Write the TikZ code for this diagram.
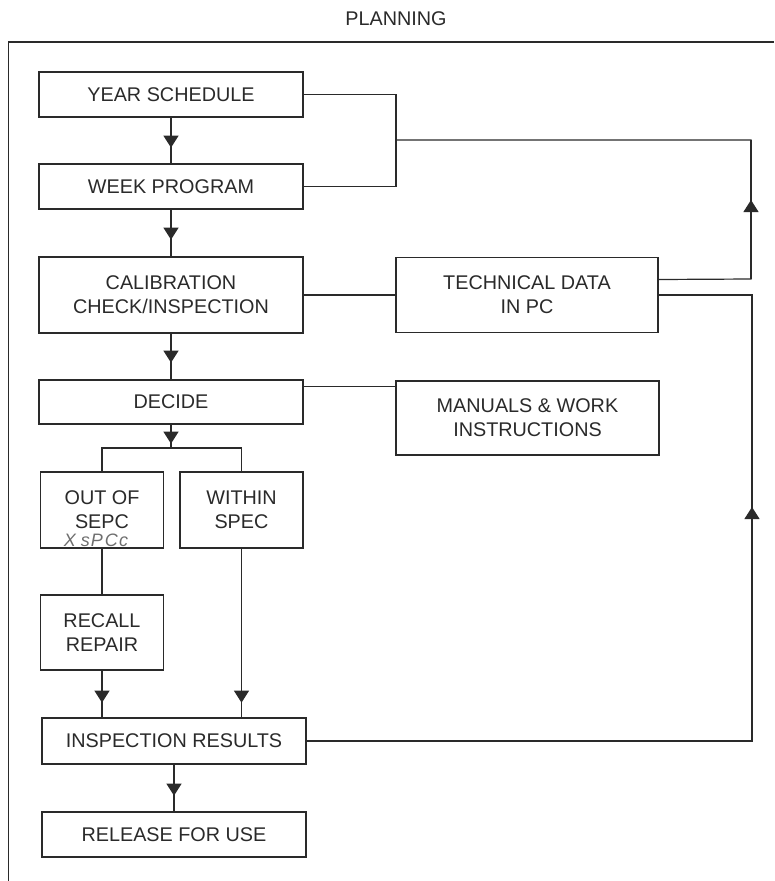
\documentclass[tikz,border=0pt]{standalone}
\usepackage{fontspec}
\setmainfont{Liberation Sans}
\usetikzlibrary{arrows.meta,decorations.markings}
\definecolor{ink}{HTML}{2A2A2A}
\definecolor{pencil}{HTML}{6E6E6E}
\tikzset{
  label font/.style={font=\fontsize{19.8}{24}\selectfont},
  box/.style={draw=ink, line width=1.3pt, rectangle, align=center, text=ink,
    label font, inner sep=0pt},
  conn/.style={draw=ink, line width=1.2pt},
  tipat/.style={postaction={decorate}, decoration={markings,
    mark=at position #1 with {\arrow[ink]{Triangle[width=15pt,length=12pt]}}}},
}
\begin{document}
\begin{tikzpicture}[x=1pt, y=-1pt]
\useasboundingbox (0,0) rectangle (774,881);

% title and outer frame
\node[text=ink, label font] (title) at (396,18.5) {PLANNING};
\draw[conn] (8.5,881) -- (8.5,42) -- (774,42);

% main column
\node[box, minimum width=264pt, minimum height=45pt] (year)    at (171,94.5)  {YEAR SCHEDULE};
\node[box, minimum width=264pt, minimum height=45pt] (week)    at (171,186.5) {WEEK PROGRAM};
\node[box, minimum width=264pt, minimum height=76pt] (calib)   at (171,295)   {CALIBRATION\\CHECK/INSPECTION};
\node[box, minimum width=264pt, minimum height=44pt] (decide)  at (171,402)   {DECIDE};
\node[box, minimum width=123pt, minimum height=76pt] (out)     at (102,510)   {OUT OF\\SEPC};
\node[box, minimum width=123pt, minimum height=76pt] (within)  at (241.5,510) {WITHIN\\SPEC};
\node[box, minimum width=123pt, minimum height=75pt] (recall)  at (102,632.5) {RECALL\\REPAIR};
\node[box, minimum width=264pt, minimum height=46pt] (insp)    at (174,741)   {INSPECTION RESULTS};
\node[box, minimum width=264pt, minimum height=45pt] (release) at (174,834.5) {RELEASE FOR USE};

% side column
\node[box, minimum width=262pt, minimum height=75pt] (tech)    at (527,295)   {TECHNICAL DATA\\IN PC};
\node[box, minimum width=263pt, minimum height=74pt] (manuals) at (527.5,418) {MANUALS \& WORK\\INSTRUCTIONS};

% pencil note
\node[text=pencil, font=\itshape\fontsize{18}{18}\selectfont, inner sep=0pt] (note) at (96,540.5) {X\ s\kern1pt P\kern2pt C\kern1pt c};

% downward flow
\draw[conn, tipat=30pt] (year) -- (week);
\draw[conn, tipat=30pt] (week) -- (calib);
\draw[conn, tipat=29pt] (calib) -- (decide);
\coordinate (fork) at (171,448);
\draw[conn, tipat=19pt] (decide.south) -- (fork);
\draw[conn] (out.north) |- (fork) -| (within.north);
\draw[conn] (out) -- (recall);
\draw[conn, tipat=32pt] (recall.south) -- (recall.south |- insp.north);
\draw[conn, tipat=154pt] (within.south) -- (within.south |- insp.north);
\draw[conn, tipat=31pt] (insp) -- (release);

% links to the side boxes
\draw[conn] (calib) -- (tech);
\path ([yshift=-7pt]decide.north east) coordinate (dm);
\draw[conn] (dm) -- (dm -| manuals.west);

% feedback to planning
\coordinate (bx) at (396,140);
\draw[conn] (year.east) -| (bx) |- (week.east);
\coordinate (tq) at (751,279);
\coordinate (tr) at (751,140);
\draw[conn] ([yshift=15.5pt]tech.east) -- (tq) -- (tr) -- (bx);
\draw[conn, tipat=79pt] (tq) -- (tr);

% feedback from inspection results
\coordinate (bq) at (752,741);
\coordinate (bt) at (752,295);
\draw[conn] (insp.east) -- (bq) -- (bt) -- (tech.east);
\draw[conn, tipat=234pt] (bq) -- (bt);
\end{tikzpicture}
\end{document}
